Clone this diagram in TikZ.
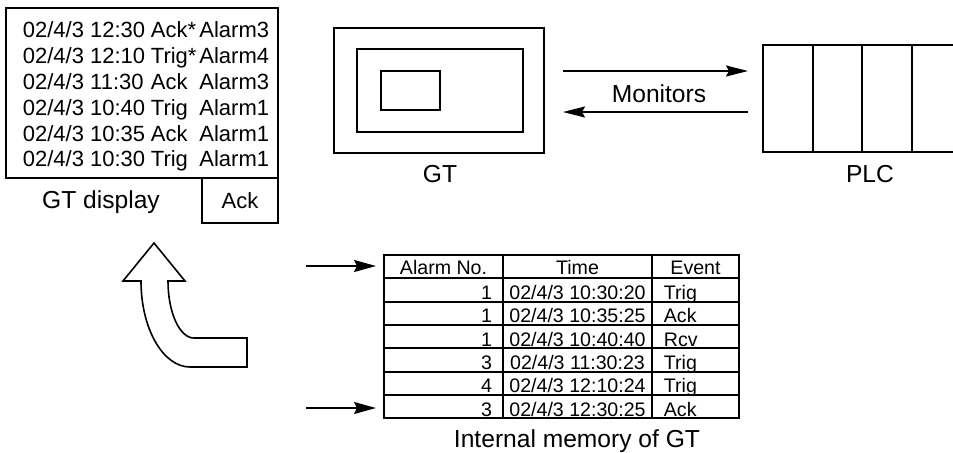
\documentclass[tikz,border=0pt]{standalone}
\usepackage{fontspec}
\setmainfont{Liberation Sans}
\usetikzlibrary{arrows.meta,positioning,calc}
\tikzset{
  every picture/.style={line width=0.9pt},
  sbox/.style={draw, inner sep=0pt},
  sflow/.style={-{Stealth[length=11pt,width=5.5pt,inset=1.5pt]}},
  sptr/.style={-{Stealth[length=11pt,width=6pt,inset=1.5pt]}},
  sline/.style={font=\fontsize{11}{13}\selectfont, inner sep=0pt},
  scell/.style={font=\fontsize{9.8}{11}\selectfont, inner sep=0pt},
  slabel/.style={font=\fontsize{12.3}{14}\selectfont, inner sep=0pt},
  sbend/.style={draw, fill=white, line width=0.8pt, line join=miter},
}

\begin{document}
\begin{tikzpicture}[x=0.5pt,y=-0.5pt]
\useasboundingbox (0,0) rectangle (953,452);
% GT display with its alarm history
\node[sbox, minimum width=136pt, minimum height=85pt] (disp) at (142,93) {};
\node[sbox, minimum width=38pt, minimum height=22.5pt, font=\fontsize{11}{13}\selectfont] (ackbtn) at (240,200.5) {Ack};
\node[sline, anchor=base west] (d1t) at (22,37) {02/4/3 12:30}; \node[sline, anchor=base west] (d1e) at (150,37) {Ack*}; \node[sline, anchor=base east] (d1a) at (270,37) {Alarm3};
\node[sline, anchor=base west] (d2t) at (22,63) {02/4/3 12:10}; \node[sline, anchor=base west] (d2e) at (150,63) {Trig*}; \node[sline, anchor=base east] (d2a) at (270,63) {Alarm4};
\node[sline, anchor=base west] (d3t) at (22,89) {02/4/3 11:30}; \node[sline, anchor=base west] (d3e) at (150,89) {Ack}; \node[sline, anchor=base east] (d3a) at (270,89) {Alarm3};
\node[sline, anchor=base west] (d4t) at (22,115) {02/4/3 10:40}; \node[sline, anchor=base west] (d4e) at (150,115) {Trig}; \node[sline, anchor=base east] (d4a) at (270,115) {Alarm1};
\node[sline, anchor=base west] (d5t) at (22,141) {02/4/3 10:35}; \node[sline, anchor=base west] (d5e) at (150,141) {Ack}; \node[sline, anchor=base east] (d5a) at (270,141) {Alarm1};
\node[sline, anchor=base west] (d6t) at (22,166.5) {02/4/3 10:30}; \node[sline, anchor=base west] (d6e) at (150,166.5) {Trig}; \node[sline, anchor=base east] (d6a) at (270,166.5) {Alarm1};
\node[slabel, anchor=base] (dispcap) at (101,208) {GT display};
% GT unit
\node[sbox, minimum width=105pt, minimum height=62.5pt] (gt) at (439,90.5) {};
\node[sbox, minimum width=83pt, minimum height=41.5pt] (gtscr) at (440,90.5) {};
\node[sbox, minimum width=29.5pt, minimum height=19.5pt] (gtwin) at (410.5,90.5) {};
\node[slabel, anchor=base] (gtcap) at (440,182) {GT};
% monitoring link
\coordinate (mOut) at (563,71); \coordinate (mIn) at (748,71); \coordinate (rOut) at (748,112); \coordinate (rIn) at (563,112);
\draw[sflow] (mOut) -- (mIn); \draw[sflow] (rOut) -- (rIn);
\node[slabel, anchor=base] (mon) at (659,102) {Monitors};
% PLC rack
\draw (953,45) -| (763,152) -- (953,152);
\draw (813,45) -- (813,152) (862,45) -- (862,152) (912,45) -- (912,152);
\node[slabel, anchor=base] (plccap) at (870,182) {PLC};
% bent arrow
\draw[sbend] (154,243) -- (185,281) -- (168,281) .. controls (168,312.5) and (179.6,338) .. (194,338) -- (247,338) -- (247,367) -- (190,367) .. controls (163,367) and (141,328.5) .. (141,281) -- (123,281) -- cycle;
% internal memory table
\draw (384,255) rectangle (739,418);
\draw (384,278) -- (739,278) (384,302) -- (739,302) (384,325) -- (739,325) (384,348) -- (739,348) (384,372) -- (739,372) (384,395) -- (739,395);
\draw (503,255) -- (503,418) (652,255) -- (652,418);
\node[scell, anchor=base] (hNo) at (443.5,274) {Alarm No.}; \node[scell, anchor=base] (hTime) at (577.5,274) {Time}; \node[scell, anchor=base] (hEv) at (695.5,274) {Event};
\node[scell, anchor=base east] (n1) at (493,299) {1}; \node[scell, anchor=base] (t1) at (577.5,299) {02/4/3 10:30:20}; \node[scell, anchor=base west] (e1) at (663,299) {Trig};
\node[scell, anchor=base east] (n2) at (493,322.5) {1}; \node[scell, anchor=base] (t2) at (577.5,322.5) {02/4/3 10:35:25}; \node[scell, anchor=base west] (e2) at (663,322.5) {Ack};
\node[scell, anchor=base east] (n3) at (493,346) {1}; \node[scell, anchor=base] (t3) at (577.5,346) {02/4/3 10:40:40}; \node[scell, anchor=base west] (e3) at (663,346) {Rcv};
\node[scell, anchor=base east] (n4) at (493,369) {3}; \node[scell, anchor=base] (t4) at (577.5,369) {02/4/3 11:30:23}; \node[scell, anchor=base west] (e4) at (663,369) {Trig};
\node[scell, anchor=base east] (n5) at (493,392.5) {4}; \node[scell, anchor=base] (t5) at (577.5,392.5) {02/4/3 12:10:24}; \node[scell, anchor=base west] (e5) at (663,392.5) {Trig};
\node[scell, anchor=base east] (n6) at (493,416) {3}; \node[scell, anchor=base] (t6) at (577.5,416) {02/4/3 12:30:25}; \node[scell, anchor=base west] (e6) at (663,416) {Ack};
\coordinate (pA) at (306,266); \coordinate (pAe) at (376,266); \coordinate (pB) at (306,408); \coordinate (pBe) at (376,408);
\draw[sptr] (pA) -- (pAe); \draw[sptr] (pB) -- (pBe);
\node[slabel, anchor=base] (memcap) at (577,447) {Internal memory of GT};
\end{tikzpicture}
\end{document}
